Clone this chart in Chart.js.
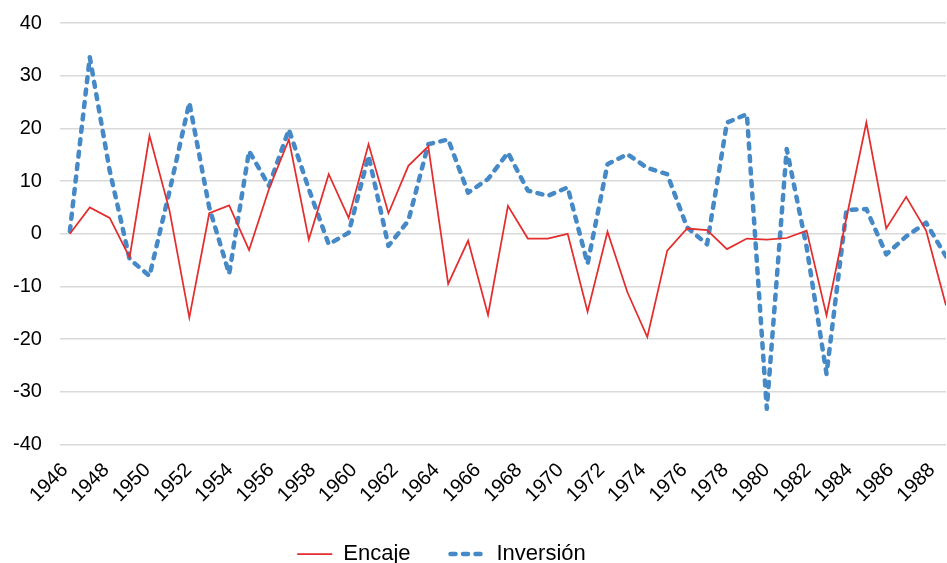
<!DOCTYPE html>
<html>
<head>
<meta charset="utf-8">
<script src="https://cdn.jsdelivr.net/npm/chart.js@4.4.1/dist/chart.umd.min.js"></script>
<style>
  html, body { margin: 0; padding: 0; background: #fff; }
  #wrap { width: 947px; height: 563px; }
</style>
</head>
<body>
<div id="wrap"><canvas id="chart"></canvas></div>
<script>
const years = [1946, 1947, 1948, 1949, 1950, 1951, 1952, 1953, 1954, 1955,
  1956, 1957, 1958, 1959, 1960, 1961, 1962, 1963, 1964, 1965,
  1966, 1967, 1968, 1969, 1970, 1971, 1972, 1973, 1974, 1975,
  1976, 1977, 1978, 1979, 1980, 1981, 1982, 1983, 1984, 1985,
  1986, 1987, 1988, 1989, 1990];

const encaje = [0, 5, 3, -4.5, 18.6, 4.5, -15.9, 3.9, 5.4, -3.1,
  8.5, 17.9, -1.1, 11.3, 3.0, 17.0, 3.9, 12.9, 16.6, -9.5,
  -1.3, -15.4, 5.3, -0.9, -0.9, 0.0, -14.8, 0.4, -11.1, -19.6,
  -3.2, 1.0, 0.7, -2.9, -0.9, -1.1, -0.8, 0.6, -15.5, 3.0,
  21.1, 1.0, 7.0, 0.6, -13.6];

const inversion = [0.5, 33.5, 12, -4.8, -8.0, 8, 24.9, 5, -7.6, 15.7,
  9.1, 19.8, 8.5, -2.0, 0.2, 14.8, -2.3, 2.5, 17.0, 17.9,
  7.8, 10.4, 15.4, 8.2, 7.2, 8.8, -5.7, 13.2, 15.1, 12.5,
  11.3, 1.2, -2.0, 21.1, 22.7, -33.2, 16.1, -2.5, -26.6, 4.5,
  4.7, -3.9, -0.5, 2.1, -4.3];

const tickYears = [1946, 1948, 1950, 1952, 1954, 1956, 1958, 1960, 1962, 1964, 1966,
  1968, 1970, 1972, 1974, 1976, 1978, 1980, 1982, 1984, 1986, 1988];

const yTicks = [-40, -30, -20, -10, 0, 10, 20, 30, 40];

const font = "'Liberation Sans', Arial, sans-serif";

// the reference spreads its year labels a bit wider than the points, so labels get their own axis
const labelAxisMin = 1945.76;
const labelAxisMax = 1988.68;
const legendShiftX = -29;

const pts = vals => years.map((y, i) => ({ x: y, y: vals[i] }));

const legendShift = {
  id: 'legendShift',
  afterLayout(chart) {
    chart.legend.left += legendShiftX;
    chart.legend.right += legendShiftX;
  }
};

// no extra room for the overhanging labels, the plot runs to the edges like the reference
const noPad = s => { s.paddingLeft = 0; s.paddingRight = 0; s.paddingTop = 0; s.paddingBottom = 0; };

new Chart(document.getElementById('chart'), {
  type: 'line',
  data: {
    datasets: [
      {
        label: 'Encaje',
        data: pts(encaje),
        borderColor: '#e42d2d',
        backgroundColor: '#e42d2d',
        borderWidth: 1.75,
        pointRadius: 0,
        tension: 0,
        fill: false,
      },
      {
        label: 'Inversión',
        data: pts(inversion),
        borderColor: '#4589c6',
        backgroundColor: '#4589c6',
        borderWidth: 4.5,
        borderDash: [5, 7.5],
        borderCapStyle: 'round',
        borderJoinStyle: 'round',
        pointRadius: 0,
        tension: 0,
        fill: false,
      },
    ],
  },
  options: {
    responsive: true,
    maintainAspectRatio: false,
    animation: false,
    layout: { padding: { left: -5, right: 1, top: 23, bottom: -12 } },
    plugins: {
      tooltip: { enabled: false },
      legend: {
        position: 'bottom',
        labels: {
          usePointStyle: true,
          pointStyle: 'line',
          pointStyleWidth: 35,
          padding: 40,
          color: '#000',
          font: { family: font, size: 22 },
          generateLabels(chart) {
            const items = Chart.defaults.plugins.legend.labels.generateLabels(chart);
            items.forEach(it => {
              const ds = chart.data.datasets[it.datasetIndex];
              it.lineDash = ds.borderDash || [];
              it.lineCap = ds.borderCapStyle || 'butt';
            });
            return items;
          },
        },
      },
    },
    scales: {
      x: { type: 'linear', min: 1945.5, max: 1990, display: false },
      xl: {
        type: 'linear',
        axis: 'x',
        position: 'bottom',
        min: labelAxisMin,
        max: labelAxisMax,
        afterBuildTicks: s => { s.ticks = tickYears.map(v => ({ value: v })); },
        afterFit: s => { noPad(s); s.height = Math.max(0, s.height - 10); },
        grid: { display: false },
        border: { display: false },
        ticks: {
          autoSkip: false,
          minRotation: 45,
          maxRotation: 45,
          padding: 6,
          color: '#000',
          font: { family: font, size: 20 },
          callback: v => String(v),
        },
      },
      y: {
        min: -40,
        max: 40,
        afterBuildTicks: s => { s.ticks = yTicks.map(v => ({ value: v })); },
        afterFit: noPad,
        grid: { color: '#d9d9d9', lineWidth: 1.5, drawTicks: false },
        border: { display: false },
        ticks: { padding: 18, color: '#000', font: { family: font, size: 20 } },
      },
    },
  },
  plugins: [legendShift],
});
</script>
</body>
</html>
